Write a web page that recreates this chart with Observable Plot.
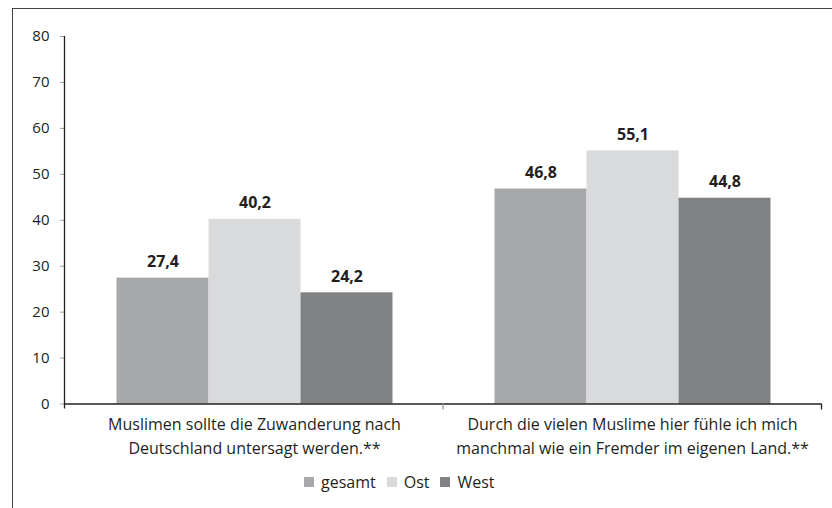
<!DOCTYPE html>
<html>
<head>
<meta charset="utf-8">
<script src="https://cdn.jsdelivr.net/npm/d3@7"></script>
<script src="https://cdn.jsdelivr.net/npm/@observablehq/plot@0.6"></script>
<style>
  html, body { margin: 0; padding: 0; background: #fff; }
  body { width: 832px; height: 508px; overflow: hidden; position: relative; font-family: "Open Sans", sans-serif; color: #231f20; }
  #frame { position: absolute; left: 12px; top: 8px; width: 820px; height: 500px; border-top: 1.5px solid #444; border-left: 1.5px solid #444; }
  #chart { position: absolute; left: 0; top: 0; }
  #legend { position: absolute; left: 291px; top: 462px; display: flex; align-items: center; font-size: 16px; }
  #legend .item { display: flex; align-items: center; margin-right: 11px; }
  #legend .sw { width: 10px; height: 10px; margin-right: 7px; }
</style>
</head>
<body>
<div id="frame"><div id="chart"></div><div id="legend"></div></div>
<script>
const questions = [
  "Muslimen sollte die Zuwanderung nach Deutschland untersagt werden.**",
  "Durch die vielen Muslime hier fühle ich mich manchmal wie ein Fremder im eigenen Land.**"
];
const questionLabels = [
  "Muslimen sollte die Zuwanderung nach\nDeutschland untersagt werden.**",
  "Durch die vielen Muslime hier fühle ich mich\nmanchmal wie ein Fremder im eigenen Land.**"
];
const seriesNames = ["gesamt", "Ost", "West"];
const gesamt = [27.4, 46.8];
const ost = [40.2, 55.1];
const west = [24.2, 44.8];
const colors = ["#a7a8ab", "#d9dadc", "#808184"];
const yTicks = [0, 10, 20, 30, 40, 50, 60, 70, 80];

const seriesValues = [gesamt, ost, west];
const data = [];
questions.forEach((q, qi) => {
  seriesNames.forEach((s, si) => data.push({question: q, series: s, value: seriesValues[si][qi]}));
});
const fmt = v => d3.format(".1f")(v).replace(".", ",");
const labelOf = q => questionLabels[questions.indexOf(q)];

const chart = Plot.plot({
  width: 820,
  height: 457,
  marginTop: 27,
  marginLeft: 51.5,
  marginRight: 11.5,
  marginBottom: 62.5,
  style: {fontFamily: "'Open Sans', sans-serif", fontSize: "15px", color: "#231f20", background: "transparent"},
  fx: {domain: questions, padding: 0, label: null},
  x: {domain: seriesNames, paddingInner: 0, paddingOuter: 0.554, axis: null},
  y: {domain: [0, 80], axis: null},
  color: {domain: seriesNames, range: colors},
  marks: [
    Plot.axisY({ticks: yTicks, tickSize: 5, tickPadding: 11, stroke: "#9a9a9a", fill: "#231f20", label: null, fontSize: 15}),
    Plot.axisFx({anchor: "bottom", tickSize: 0, tickPadding: 10, tickFormat: labelOf, lineHeight: 1.45, fill: "#231f20", label: null, fontSize: 16}),
    Plot.barY(data, {fx: "question", x: "series", y: "value", fill: "series"}),
    Plot.text(data, {fx: "question", x: "series", y: "value", text: d => fmt(d.value), dy: -11, lineAnchor: "bottom", fontWeight: "bold", fontSize: 16, fill: "#231f20"}),
    Plot.ruleY([0], {stroke: "#231f20", strokeWidth: 1.3})
  ]
});

// axis line and group boundary ticks from the plot's own scales
const sy = chart.scale("y"), sfx = chart.scale("fx");
const yS = d3.scaleLinear(sy.domain, sy.range);
const fxS = d3.scaleBand(sfx.domain, sfx.range).paddingInner(sfx.paddingInner || 0).paddingOuter(sfx.paddingOuter || 0);
const svg = d3.select(chart);
const x0 = fxS(questions[0]);
svg.append("line").attr("x1", x0).attr("x2", x0).attr("y1", yS(80)).attr("y2", yS(0) + 5)
  .attr("stroke", "#231f20").attr("stroke-width", 1.3);
const edges = [...questions.map(q => fxS(q)), fxS(questions[questions.length - 1]) + fxS.bandwidth()];
edges.slice(1).forEach(e => {
  svg.append("line").attr("x1", e).attr("x2", e).attr("y1", yS(0)).attr("y2", yS(0) + 6)
    .attr("stroke", e === edges[edges.length - 1] ? "#231f20" : "#9a9a9a").attr("stroke-width", 1.3);
});
document.getElementById("chart").appendChild(chart);

const legend = document.getElementById("legend");
seriesNames.forEach((s, i) => {
  const item = document.createElement("div");
  item.className = "item";
  item.innerHTML = `<span class="sw" style="background:${colors[i]}"></span><span>${s}</span>`;
  legend.appendChild(item);
});
</script>
</body>
</html>
